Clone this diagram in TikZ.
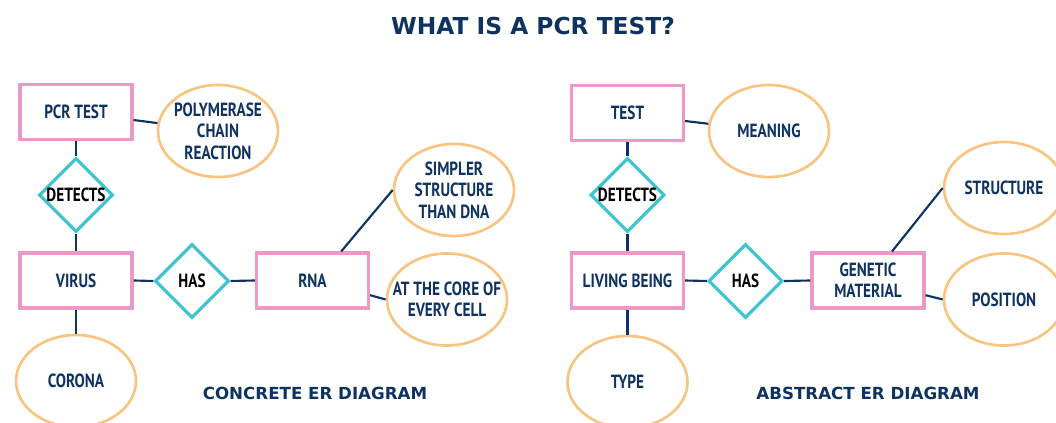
\documentclass[tikz,border=0pt]{standalone}
\usepackage{fontspec}
\usetikzlibrary{shapes.geometric}
\newfontfamily\titlefont{DejaVu Sans}
\newfontfamily\nodefont[FakeStretch=0.8]{PT Sans}
\definecolor{navy}{HTML}{0E3360}
\definecolor{pinkc}{HTML}{EC98C8}
\definecolor{cyanc}{HTML}{3EC4D0}
\definecolor{orangec}{HTML}{F8C482}
\begin{document}
\begin{tikzpicture}[x=0.75pt,y=-0.75pt,
  lbl/.style={font=\nodefont\bfseries\fontsize{14.3}{16}\selectfont,align=center},
  entity/.style={lbl,rectangle,draw=pinkc,line width=2.3pt,minimum width=112*0.75pt,minimum height=55*0.75pt,inner sep=0pt,text=navy},
  rel/.style={lbl,diamond,draw=cyanc,line width=2.3pt,minimum width=74*0.75pt,minimum height=74*0.75pt,inner sep=0pt,text=black},
  attr/.style={lbl,ellipse,draw=orangec,line width=2pt,minimum width=120*0.75pt,minimum height=92*0.75pt,inner xsep=-14pt,inner ysep=0pt,text=navy},
  link/.style={draw=navy,line width=1.6pt},
  caption/.style={font=\titlefont\bfseries\fontsize{12.5}{14}\selectfont,text=navy}]
\useasboundingbox (0,0) rectangle (1056,423);
\clip (0,0) rectangle (1056,423);
\node[font=\titlefont\bfseries\fontsize{17.5}{20}\selectfont,text=navy] (title) at (533,26) {WHAT IS A PCR TEST?};
% left diagram
\node[entity] (pcr) at (76,112) {PCR TEST};
\node[attr] (poly) at (218,131) {POLYMERASE\\CHAIN\\REACTION};
\node[rel] (detL) at (76,195) {\makebox[0pt]{DETECTS}};
\node[entity] (virus) at (76,280.5) {VIRUS};
\node[rel] (hasL) at (192,281) {\makebox[0pt]{HAS}};
\node[entity] (rna) at (312.5,280.5) {RNA};
\node[attr] (simpler) at (454,190) {SIMPLER\\STRUCTURE\\THAN DNA};
\node[attr] (core) at (447,299.5) {AT THE CORE OF\\EVERY CELL};
\node[attr] (corona) at (76,381) {CORONA};
\node[caption] (concrete) at (315,393) {CONCRETE ER DIAGRAM};
\draw[link] ([yshift=-6pt]pcr.east) -- (poly);
\draw[link] (pcr.south) -- (detL.north);
\draw[link] (detL.south) -- (virus.north);
\draw[link] (virus.south) -- (corona.north);
\draw[link] (virus.east) -- (hasL.west);
\draw[link] (hasL.east) -- (rna.west);
\draw[link] ([xshift=21.5pt]rna.north) -- (simpler.west);
\draw[link] ([yshift=-11pt]rna.east) -- (core.west);
% right diagram
\node[entity] (test) at (627.5,113) {TEST};
\node[attr] (meaning) at (769,131) {MEANING};
\node[rel] (detR) at (627.5,195) {\makebox[0pt]{DETECTS}};
\node[entity] (living) at (627.5,280.5) {LIVING BEING};
\node[rel] (hasR) at (745.5,281) {\makebox[0pt]{HAS}};
\node[entity] (gen) at (868,280.5) {GENETIC\\MATERIAL};
\node[attr] (structure) at (1004,188) {STRUCTURE};
\node[attr] (position) at (1004,299.5) {POSITION};
\node[attr] (type) at (627.5,382) {TYPE};
\node[caption] (abstract) at (868,393) {ABSTRACT ER DIAGRAM};
\draw[link] ([yshift=-6pt]test.east) -- (meaning);
\draw[link] (test.south) -- (detR.north);
\draw[link] (detR.south) -- (living.north);
\draw[link] (living.south) -- (type.north);
\draw[link] (living.east) -- (hasR.west);
\draw[link] (hasR.east) -- (gen.west);
\draw[link] ([xshift=18pt]gen.north) -- (structure.west);
\draw[link] ([yshift=-11pt]gen.east) -- (position.west);
\end{tikzpicture}
\end{document}
